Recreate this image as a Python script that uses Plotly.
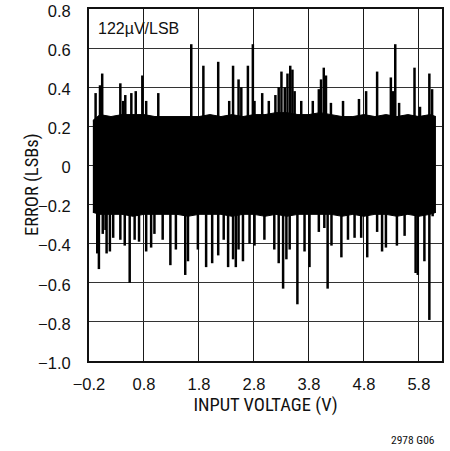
import plotly.graph_objects as go

# Dense noise band envelope
env_x = [-0.13, 0.0, 0.2, 0.4, 0.6, 0.8, 1.0, 1.2, 1.4, 1.6, 1.8, 2.0, 2.2, 2.4,
         2.6, 2.8, 3.0, 3.2, 3.4, 3.6, 3.8, 4.0, 4.2, 4.4, 4.6, 4.8, 5.0, 5.2,
         5.4, 5.6, 5.8, 6.0, 6.11]
env_hi = [0.23, 0.26, 0.25, 0.26, 0.26, 0.26, 0.25, 0.25, 0.25, 0.25, 0.25, 0.26, 0.25, 0.26,
          0.25, 0.26, 0.26, 0.27, 0.27, 0.26, 0.26, 0.27, 0.26, 0.25, 0.25, 0.26, 0.25, 0.26,
          0.25, 0.26, 0.25, 0.26, 0.25]
env_lo = [-0.24, -0.25, -0.25, -0.25, -0.26, -0.25, -0.25, -0.25, -0.25, -0.26, -0.25, -0.25, -0.25, -0.26,
          -0.25, -0.25, -0.26, -0.25, -0.26, -0.25, -0.25, -0.25, -0.25, -0.26, -0.25, -0.26, -0.25, -0.25,
          -0.26, -0.25, -0.26, -0.25, -0.24]

# Positive excursions
pos_x = [-0.08, 0.00, 0.04, 0.37, 0.42, 0.46, 0.57, 0.65, 0.77, 0.84, 1.06, 1.66, 1.88, 2.15,
         2.35, 2.42, 2.52, 2.57, 2.69, 2.78, 2.81, 2.95, 3.07, 3.19, 3.25, 3.30, 3.36, 3.41,
         3.46, 3.50, 3.54, 3.66, 3.87, 3.98, 4.02, 4.07, 4.11, 4.20, 4.42, 4.71, 4.84, 5.04,
         5.29, 5.33, 5.37, 5.44, 5.72, 5.82, 5.99, 6.04]
pos_v = [0.37, 0.41, 0.47, 0.42, 0.33, 0.36, 0.37, 0.38, 0.46, 0.33, 0.37, 0.62, 0.51, 0.53,
         0.33, 0.51, 0.44, 0.40, 0.51, 0.62, 0.33, 0.37, 0.33, 0.36, 0.40, 0.48, 0.40, 0.47,
         0.51, 0.49, 0.38, 0.33, 0.33, 0.39, 0.44, 0.50, 0.46, 0.32, 0.33, 0.34, 0.38, 0.48,
         0.45, 0.38, 0.62, 0.32, 0.50, 0.30, 0.47, 0.39]

# Negative excursions
neg_x = [-0.05, -0.02, 0.05, 0.10, 0.12, 0.18, 0.24, 0.37, 0.45, 0.54, 0.63, 0.71, 0.84, 0.93,
         0.99, 1.14, 1.28, 1.38, 1.55, 1.60, 1.78, 1.93, 2.04, 2.15, 2.25, 2.33, 2.42, 2.47,
         2.52, 2.60, 2.72, 2.81, 2.99, 3.17, 3.25, 3.33, 3.39, 3.45, 3.59, 3.72, 3.81, 3.98,
         4.08, 4.14, 4.21, 4.39, 4.51, 4.63, 4.75, 4.86, 5.04, 5.13, 5.20, 5.40, 5.54, 5.74,
         5.78, 5.90, 5.99, 6.05]
neg_v = [-0.45, -0.53, -0.35, -0.33, -0.45, -0.44, -0.37, -0.38, -0.41, -0.60, -0.38, -0.39, -0.44, -0.42,
         -0.35, -0.38, -0.51, -0.43, -0.56, -0.49, -0.43, -0.52, -0.50, -0.46, -0.38, -0.52, -0.48, -0.52,
         -0.43, -0.49, -0.40, -0.41, -0.38, -0.43, -0.50, -0.63, -0.48, -0.43, -0.71, -0.44, -0.52, -0.34,
         -0.32, -0.63, -0.41, -0.47, -0.38, -0.37, -0.37, -0.47, -0.34, -0.44, -0.42, -0.41, -0.36, -0.55,
         -0.56, -0.49, -0.79, -0.26]

x_ticks = [-0.2, 0.8, 1.8, 2.8, 3.8, 4.8, 5.8]
x_ticklabels = ["\u22120.2", "0.8", "1.8", "2.8", "3.8", "4.8", "5.8"]
y_ticks = [0.8, 0.6, 0.4, 0.2, 0.0, -0.2, -0.4, -0.6, -0.8, -1.0]
y_ticklabels = ["0.8", "0.6", "0.4", "0.2", "0", "\u22120.2", "\u22120.4", "\u22120.6", "\u22120.8", "\u22121.0"]

SANS = "Liberation Sans, Arial, Helvetica, sans-serif"
NARROW = "Roboto Condensed, Liberation Sans Narrow, Arial Narrow, Liberation Sans, sans-serif"

W, H = 450, 451
ML, MR, MT, MB = 89, 8, 9, 90


def spikes(xs, vs):
    sx, sy = [], []
    for x, v in zip(xs, vs):
        sx += [x, x, None]
        sy += [0, v, None]
    return sx, sy


fig = go.Figure()
fig.add_trace(go.Scatter(x=env_x, y=env_lo, mode="lines", line=dict(color="black", width=1),
                         hoverinfo="skip", showlegend=False))
fig.add_trace(go.Scatter(x=env_x, y=env_hi, mode="lines", line=dict(color="black", width=1),
                         fill="tonexty", fillcolor="black", hoverinfo="skip", showlegend=False))
px_, py_ = spikes(pos_x, pos_v)
fig.add_trace(go.Scatter(x=px_, y=py_, mode="lines", line=dict(color="black", width=2.5),
                         hoverinfo="skip", showlegend=False))
nx_, ny_ = spikes(neg_x, neg_v)
fig.add_trace(go.Scatter(x=nx_, y=ny_, mode="lines", line=dict(color="black", width=2.5),
                         hoverinfo="skip", showlegend=False))

plot_w = W - ML - MR
plot_h = H - MT - MB

fig.update_layout(
    width=W, height=H,
    margin=dict(l=ML, r=MR, t=MT, b=MB, autoexpand=False),
    paper_bgcolor="white", plot_bgcolor="white",
    font=dict(family=SANS, size=16.5, color="#111"),
    showlegend=False,
    xaxis=dict(range=[-0.2, 6.22], tickvals=x_ticks, ticktext=x_ticklabels, automargin=False,
               showgrid=True, gridcolor="#1a1a1a", gridwidth=1, zeroline=False,
               showline=True, linecolor="#111", linewidth=2, mirror=True,
               ticks="", ticklabelstandoff=7, ticklabeloverflow="allow",
               tickfont=dict(family=SANS, size=16.5),
               title=dict(text="INPUT VOLTAGE (V)", standoff=6,
                          font=dict(family=NARROW, size=18.5))),
    yaxis=dict(range=[-1.0, 0.8], tickvals=y_ticks, ticktext=y_ticklabels, automargin=False,
               showgrid=True, gridcolor="#333", gridwidth=1, zeroline=False,
               showline=True, linecolor="#111", linewidth=2, mirror=True,
               ticks="", ticklabelstandoff=13, ticklabelshift=2, ticklabeloverflow="allow",
               tickfont=dict(family=SANS, size=16.5)),
    annotations=[
        dict(text="ERROR (LSBs)", xref="paper", yref="paper",
             x=-(ML - 32) / plot_w, y=0.5, textangle=-90,
             xanchor="center", yanchor="middle", showarrow=False,
             font=dict(family=NARROW, size=18.5)),
        dict(text="122\u00b5V/LSB", xref="paper", yref="paper",
             x=7 / plot_w, y=1 - (29 - MT) / plot_h,
             xanchor="left", yanchor="middle", showarrow=False,
             font=dict(family=SANS, size=16)),
        dict(text="2978 G06", xref="paper", yref="paper",
             x=(437 - ML) / plot_w, y=-(440 - (MT + plot_h)) / plot_h,
             xanchor="right", yanchor="middle", showarrow=False,
             font=dict(family=NARROW, size=11.5)),
    ],
)

fig.write_html("out.html", config={"displayModeBar": False},
               post_script="document.body.style.margin='0px';")
